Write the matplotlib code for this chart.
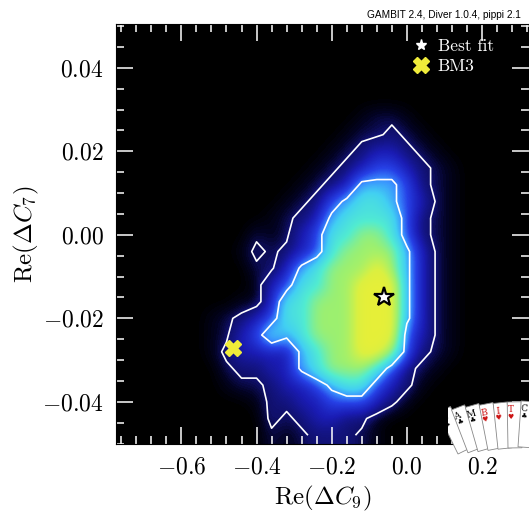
import numpy as np
import matplotlib
matplotlib.use('Agg')
import matplotlib.pyplot as plt
from matplotlib.colors import LinearSegmentedColormap
from matplotlib.lines import Line2D
from matplotlib.patches import Rectangle
from matplotlib.ticker import MultipleLocator, FuncFormatter

plt.rcParams['mathtext.fontset'] = 'cm'
plt.rcParams['font.family'] = ['cmr10', 'DejaVu Serif']
plt.rcParams['axes.unicode_minus'] = False

# ---- data: profile likelihood (relative to max) ----
x_vals = [-0.76, -0.72, -0.68, -0.64, -0.60, -0.56, -0.52, -0.48, -0.44, -0.40,
          -0.36, -0.32, -0.28, -0.24, -0.20, -0.16, -0.12, -0.08, -0.04, 0.00,
          0.04, 0.08, 0.12, 0.16, 0.20, 0.24, 0.28]
y_vals = [0.048, 0.044, 0.040, 0.036, 0.032, 0.028, 0.024, 0.020, 0.016, 0.012,
          0.008, 0.004, 0.000, -0.004, -0.008, -0.012, -0.016, -0.020, -0.024,
          -0.028, -0.032, -0.036, -0.040, -0.044, -0.048]
level_values = [0.0, 0.015, 0.035, 0.06, 0.12, 0.22, 0.36, 0.5, 0.7, 0.92]
like_rows = [
    "000000000000000000000000000",
    "000000000000000000000000000",
    "000000000000000000000000000",
    "000000000000000000000000000",
    "000000000000000000000000000",
    "000000000000000012210000000",
    "000000000000000122321000000",
    "000000000000001234432100000",
    "000000000000012345543210000",
    "000000000000123466653210000",
    "000000000001235677654210000",
    "000000000012346777753210000",
    "000000000212457788753210000",
    "000000001323457888864210000",
    "000000000224678889864210000",
    "000000000145778899964210000",
    "000000001147788899964210000",
    "000000123457788899964210000",
    "000000124576788899954210000",
    "000000134444678899853210000",
    "000000023344678887532100000",
    "000000012234456775431000000",
    "000000000133445554310000000",
    "000000000032344331000000000",
    "000000000021233321000000000",
]
contour_levels = [0.0455, 0.3166]   # 2 sigma, 1 sigma
best_fit = (-0.06, -0.015)
bm3 = (-0.463, -0.027)
xlim = (-0.774, 0.325)
ylim = (-0.0501, 0.0505)

L = np.array([[level_values[int(c)] for c in r] for r in like_rows])
xv = np.array(x_vals)
yv = np.array(y_vals)

cmap = LinearSegmentedColormap.from_list('allanach', [
    (0.0, '#000000'), (0.02, '#030322'), (0.0455, '#10106a'),
    (0.12, '#1a1cb4'), (0.22, '#2640e6'), (0.3166, '#3a92ff'),
    (0.42, '#42d0f2'), (0.55, '#52ecd0'), (0.7, '#9cf070'),
    (0.85, '#dcf040'), (1.0, '#f2ee30')])
cmap.set_under('black')

fig = plt.figure(figsize=(5.29, 5.13), dpi=100)
ax = fig.add_axes([116/529, 69/513, 413/529, 420/513])
ax.set_facecolor('black')

dx = (xv[1] - xv[0]) / 2
dy = (yv[0] - yv[1]) / 2
ax.imshow(L, extent=[xv[0] - dx, xv[-1] + dx, yv[-1] - dy, yv[0] + dy],
          origin='upper', cmap=cmap, vmin=0, vmax=1,
          interpolation='bicubic', aspect='auto')
ax.contour(xv, yv[::-1], L[::-1], levels=contour_levels,
           colors='white', linewidths=1.2)

ax.plot([best_fit[0]], [best_fit[1]], ls='none', marker='*', ms=15,
        mfc='white', mec='black', mew=1.6, zorder=5)
ax.plot([bm3[0]], [bm3[1]], ls='none', marker='X', ms=12,
        mfc='#f0ec3a', mec='#f0ec3a', zorder=5)

ax.set_xlim(*xlim)
ax.set_ylim(*ylim)

ax.xaxis.set_major_locator(MultipleLocator(0.2))
ax.xaxis.set_minor_locator(MultipleLocator(0.04))
ax.yaxis.set_major_locator(MultipleLocator(0.02))
ax.yaxis.set_minor_locator(MultipleLocator(0.005))


def fx(v, p):
    v = 0.0 if abs(v) < 1e-9 else v
    return r'$%.1f$' % v


def fy(v, p):
    v = 0.0 if abs(v) < 1e-9 else v
    return r'$%.2f$' % v


ax.xaxis.set_major_formatter(FuncFormatter(fx))
ax.yaxis.set_major_formatter(FuncFormatter(fy))
ax.tick_params(which='both', direction='in', top=True, right=True,
               color='white', labelsize=17, width=1.1)
ax.tick_params(which='major', length=12.5, pad=9)
ax.tick_params(which='minor', length=6)
for s in ax.spines.values():
    s.set_color('black')

ax.set_xlabel(r'$\mathrm{Re}(\Delta C_9)$', fontsize=18, labelpad=4)
ax.set_ylabel(r'$\mathrm{Re}(\Delta C_7)$', fontsize=18, labelpad=1)

handles = [Line2D([], [], ls='none', marker='*', ms=8, mfc='white', mec='white'),
           Line2D([], [], ls='none', marker='X', ms=11, mfc='#f0ec3a', mec='#f0ec3a')]
leg = ax.legend(handles, ['Best fit', 'BM3'], loc='upper right',
                bbox_to_anchor=(0.915, 0.965), frameon=False, fontsize=12.5,
                labelcolor='white', handlelength=1.0, handletextpad=0.45,
                borderpad=0, borderaxespad=0, labelspacing=0.25)

fig.text(0.985, 0.971, 'GAMBIT 2.4, Diver 1.0.4, pippi 2.1', ha='right',
         va='center', fontsize=7.3, family='Liberation Sans')

# GAMBIT card logo
logo = fig.add_axes([448/529, 1 - 458/513, 81/529, 80/513])
logo.set_xlim(0, 81)
logo.set_ylim(0, 80)
logo.axis('off')
letters = ['G', 'A', 'M', 'B', 'I', 'T', 'C']
suits = ['\u2663', '\u2663', '\u2663', '\u2665', '\u2665', '\u2665', '\u2663']
for k, (let, su) in enumerate(zip(letters, suits)):
    ang = 26 - 5 * k
    x0, y0 = 10 + 10.0 * k, 4 + 1.2 * k
    w, h = 14, 46
    logo.add_patch(Rectangle((x0, y0), w, h, angle=ang, rotation_point='xy',
                             facecolor='white', edgecolor='#888888', lw=0.6))
    t = np.deg2rad(ang)
    ox, oy = 3.5, h - 8
    lx = x0 + ox * np.cos(t) - oy * np.sin(t)
    ly = y0 + ox * np.sin(t) + oy * np.cos(t)
    col = '#cc1111' if su == '\u2665' else 'black'
    logo.text(lx, ly, let, rotation=ang, color=col, fontsize=6.5,
              ha='center', va='center', family='DejaVu Serif')
    ox, oy = 3.5, h - 15
    lx = x0 + ox * np.cos(t) - oy * np.sin(t)
    ly = y0 + ox * np.sin(t) + oy * np.cos(t)
    logo.text(lx, ly, su, rotation=ang, color=col, fontsize=5,
              ha='center', va='center', family='DejaVu Sans')

fig.savefig('out.png', dpi=100, facecolor='white')
